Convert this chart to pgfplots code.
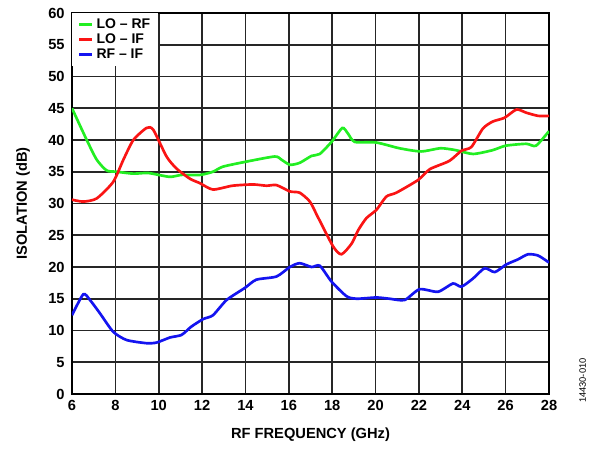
\documentclass[border=0pt]{standalone}
\usepackage{fontspec}
\setmainfont{Liberation Sans}
\usepackage{pgfplots}
\pgfplotsset{compat=1.18}
\definecolor{loRF}{RGB}{34,238,34}
\definecolor{loIF}{RGB}{250,20,20}
\definecolor{rfIF}{RGB}{20,20,240}
\begin{document}
\begin{tikzpicture}
\useasboundingbox (-54pt,-41.25pt) rectangle (390pt,295.5pt);
\begin{axis}[
    at={(0,0)}, anchor=origin,
    scale only axis,
    width=357.75pt, height=285.75pt,
    xmin=6, xmax=28, ymin=0, ymax=60,
    xtick={6,8,...,28}, ytick={0,5,...,60},
    xmajorgrids, ymajorgrids,
    major grid style={draw=black!85, line width=1.25pt},
    axis line style={black, line width=1.6pt},
    major tick length=0pt,
    /pgf/number format/assume math mode=true,
    tick label style={font=\bfseries\fontsize{11}{12}\selectfont},
    xticklabel style={yshift=-1pt},
    yticklabel style={xshift=-2pt},
    xlabel={RF FREQUENCY (GHz)},
    ylabel={ISOLATION (dB)},
    label style={font=\bfseries\fontsize{11}{12}\selectfont},
    xlabel style={yshift=-6pt},
    ylabel style={yshift=7pt},
    legend cell align=left,
    legend style={at={(0,1)}, anchor=north west, draw=none, fill=white,
        font=\bfseries\fontsize{10.5}{11}\selectfont,
        inner xsep=4pt, inner ysep=2pt, row sep=-1.5pt},
    legend image code/.code={\draw[#1, line width=2.2pt] (0pt,0pt) -- (10pt,0pt);},
    every axis plot/.append style={line width=2pt, smooth, tension=0.4},
]
\addplot[loRF] coordinates {
(6,45.0) (6.68,40.0) (7.14,36.9) (7.6,35.2) (8.06,35.0) (8.83,34.7) (9.52,34.8)
(10.5,34.2) (11.05,34.5) (11.9,34.5) (12.5,35.0) (12.96,35.8) (14.05,36.6)
(15.35,37.4) (15.66,36.9) (16.05,36.1) (16.5,36.4) (17.05,37.5) (17.43,37.8)
(17.97,39.7) (18.47,41.9) (18.73,41.0) (19.04,39.7) (20.04,39.6) (21.1,38.7)
(22.1,38.2) (23.0,38.7) (23.7,38.4) (24.5,37.8) (25.4,38.4) (26.0,39.1)
(26.95,39.4) (27.4,39.1) (28,41.4)
};
\addlegendentry{LO – RF}
\addplot[loIF] coordinates {
(6,30.6) (6.52,30.3) (7.14,30.8) (7.9,33.4) (8.37,36.9) (8.83,40.0) (9.44,41.9)
(9.75,41.6) (10.36,37.4) (10.82,35.5) (11.44,33.9) (11.9,33.2) (12.5,32.2)
(13.4,32.8) (14.35,33.0) (14.97,32.8) (15.43,32.9) (16.05,31.9) (16.5,31.7)
(16.97,30.3) (17.35,27.8) (18.05,23.2) (18.43,22.0) (18.9,23.7) (19.2,25.8)
(19.58,27.7) (20.04,29.0) (20.5,31.1) (20.96,31.7) (21.96,33.7) (22.5,35.4)
(23.4,36.7) (23.96,38.3) (24.42,38.9) (24.95,41.8) (25.4,42.9) (25.95,43.5)
(26.5,44.8) (26.95,44.3) (27.5,43.8) (28,43.8)
};
\addlegendentry{LO – IF}
\addplot[rfIF] coordinates {
(6,12.4) (6.52,15.7) (6.83,14.8) (7.29,12.7) (7.9,9.8) (8.52,8.5) (9.44,8.0)
(9.9,8.1) (10.52,8.9) (11.05,9.3) (11.5,10.6) (12.05,11.8) (12.5,12.4)
(13.13,14.8) (13.97,16.7) (14.5,18.0) (15.43,18.5) (16.05,20.0) (16.5,20.6)
(17.05,20.0) (17.43,20.2) (17.97,17.7) (18.66,15.4) (19.12,15.0) (20.04,15.2)
(20.65,15.0) (21.34,14.8) (22.03,16.5) (22.88,16.1) (23.57,17.4) (23.96,16.9)
(24.5,18.2) (25.03,19.8) (25.5,19.2) (26.03,20.4) (26.57,21.2) (27.03,22.0)
(27.5,21.8) (28,20.7)
};
\addlegendentry{RF – IF}
\end{axis}
\node[rotate=90, font=\fontsize{7}{8}\selectfont] at (383pt,10pt) {14430-010};
\end{tikzpicture}
\end{document}
